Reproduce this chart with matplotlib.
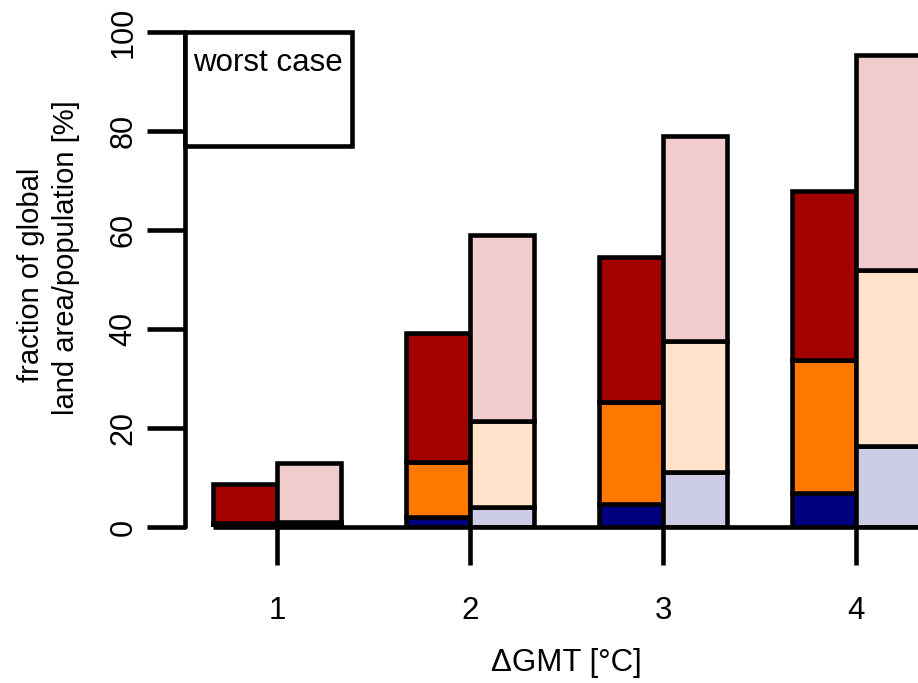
import matplotlib
matplotlib.use('Agg')
import matplotlib.pyplot as plt
from matplotlib.patches import Rectangle

plt.rcParams['font.family'] = ['Liberation Sans', 'DejaVu Sans']

gmt = [1, 2, 3, 4]

# left bars (cumulative tops, bottom -> top)
left_low = [0.3, 2.0, 4.6, 6.9]
left_mid = [0.8, 13.1, 25.3, 33.7]
left_top = [8.6, 39.2, 54.5, 67.8]

# right bars (worst case, cumulative tops)
right_low = [0.3, 4.0, 11.1, 16.4]
right_mid = [1.1, 21.4, 37.6, 51.9]
right_top = [13.0, 59.0, 79.0, 95.4]

left_cols = ['#000080', '#FF7800', '#A30000']
right_cols = ['#CCCCE6', '#FFE4CB', '#F0CCCC']

yticks = [0, 20, 40, 60, 80, 100]
legend_text = 'worst case'

W, H = 918, 683
fig = plt.figure(figsize=(W / 100, H / 100), dpi=100)
ax = fig.add_axes([185 / W, (H - 527) / H, 1 - 185 / W, 495 / H])

lw = 3.3
bw = 1 / 3.

def stack(xs, lows, mids, tops, cols):
    ax.bar(xs, lows, width=bw, align='edge', color=cols[0], edgecolor='black', linewidth=lw, zorder=3)
    ax.bar(xs, [m - l for m, l in zip(mids, lows)], bottom=lows, width=bw, align='edge',
           color=cols[1], edgecolor='black', linewidth=lw, zorder=3)
    ax.bar(xs, [t - m for t, m in zip(tops, mids)], bottom=mids, width=bw, align='edge',
           color=cols[2], edgecolor='black', linewidth=lw, zorder=3)

stack([g - bw for g in gmt], left_low, left_mid, left_top, left_cols)
stack(gmt, right_low, right_mid, right_top, right_cols)

ax.set_xlim(0.5233, 4.321)
ax.set_ylim(0, 100)

# zero line
ax.plot([0.667, 4.5], [0, 0], color='black', lw=lw, zorder=4, solid_capstyle='butt', clip_on=False)

for s in ['top', 'right', 'bottom']:
    ax.spines[s].set_visible(False)
ax.spines['left'].set_linewidth(lw)
ax.spines['left'].set_capstyle('round')

ax.set_yticks(yticks)
ax.set_xticks(gmt)
ax.tick_params(axis='y', length=27.4, width=lw, labelsize=22, pad=6)
ax.tick_params(axis='x', length=27.4, width=lw, labelsize=22.5, pad=22)
plt.setp(ax.get_yticklabels(), rotation=90, va='center')

# legend-like box
ax.add_patch(Rectangle((0.5233, 77.0), 1.389 - 0.5233, 23.0, facecolor='white',
                       edgecolor='black', linewidth=lw, clip_on=False, zorder=5))
ax.text(0.565, 93.7, legend_text, fontsize=22.5, va='center', ha='left', zorder=6)

fig.text(31 / W, 1 - 275 / H, 'fraction of global', rotation=90, fontsize=21,
         ha='center', va='center')
fig.text(66 / W, 1 - 258 / H, 'land area/population [%]', rotation=90, fontsize=21,
         ha='center', va='center')
fig.text(566 / W, 1 - 663 / H, '\u0394GMT [\u00b0C]', fontsize=22.5, ha='center', va='center')

fig.savefig('out.png', dpi=100)
